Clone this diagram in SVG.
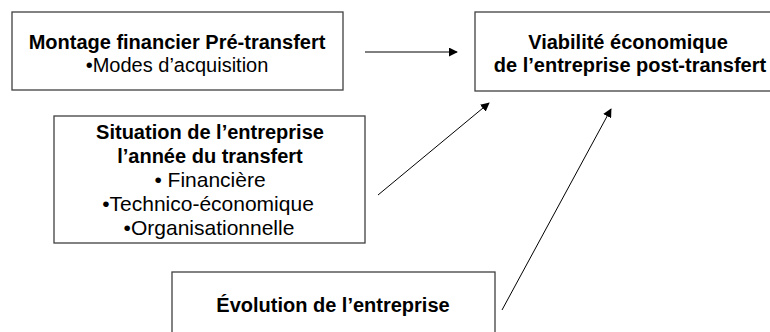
<svg xmlns="http://www.w3.org/2000/svg" width="770" height="332" viewBox="0 0 770 332">
<defs>
<style>
.box{fill:#fff;stroke:#404040;stroke-width:1.3}
.b{font-family:"Liberation Sans",Arial,sans-serif;font-weight:bold;font-size:20px;fill:#000;text-anchor:middle}
.r{font-family:"Liberation Sans",Arial,sans-serif;font-size:20px;fill:#000;text-anchor:middle}
.r21{font-size:21px}
.c{stroke:#000;stroke-width:1;fill:none;marker-end:url(#ah)}
</style>
<marker id="ah" viewBox="0 0 10 10" refX="9" refY="5" markerWidth="9" markerHeight="9" markerUnits="userSpaceOnUse" orient="auto">
<path d="M0,0 L10,5 L0,10 z" fill="#000"/>
</marker>
</defs>
<rect width="770" height="332" fill="#fff"/>
<g id="montage">
<rect class="box" x="12" y="12" width="331" height="78"/>
<text class="b" x="177" y="49">Montage financier Pré-transfert</text>
<text class="r" x="177" y="72">•Modes d’acquisition</text>
</g>
<g id="viabilite">
<rect class="box" x="475" y="12" width="305" height="79"/>
<text class="b" x="628" y="49">Viabilité économique</text>
<text class="b" x="630" y="72">de l’entreprise post-transfert</text>
</g>
<g id="situation">
<rect class="box" x="54" y="116" width="311" height="127"/>
<text class="b" x="210" y="139">Situation de l’entreprise</text>
<text class="b" x="210" y="163">l’année du transfert</text>
<text class="r r21" x="210" y="187">• Financière</text>
<text class="r r21" x="208" y="211">•Technico-économique</text>
<text class="r r21" x="209" y="235">•Organisationnelle</text>
</g>
<g id="evolution">
<rect class="box" x="172" y="272" width="323" height="70"/>
<text class="b" x="333" y="312">Évolution de l’entreprise</text>
</g>
<g id="connectors">
<line class="c" x1="365" y1="52" x2="457" y2="52"/>
<line class="c" x1="378" y1="195" x2="489" y2="103"/>
<line class="c" x1="502" y1="310" x2="611" y2="109"/>
</g>
</svg>
